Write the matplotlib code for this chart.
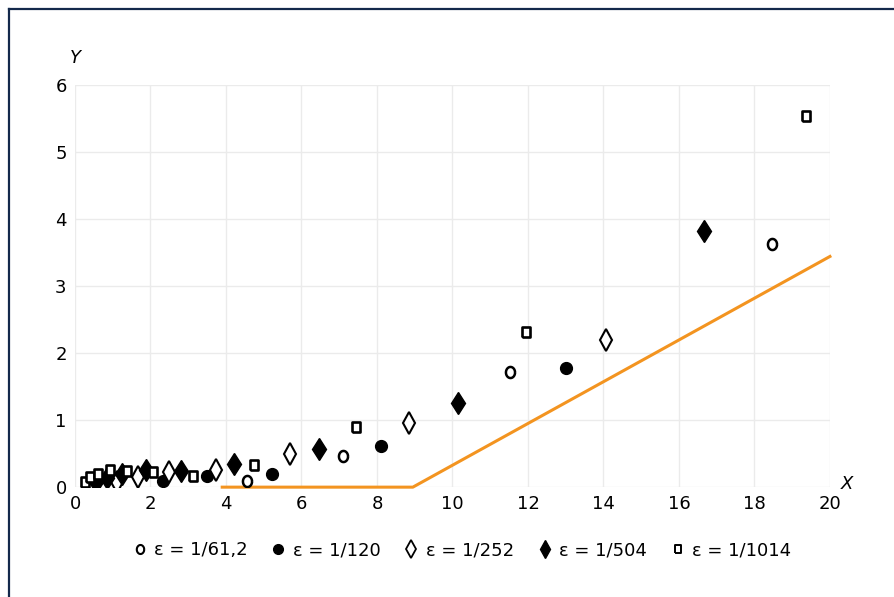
"""
Y versus X for several epsilon values, with the orange threshold line
"""
import numpy as np
import matplotlib
matplotlib.use("Agg")
import matplotlib.pyplot as plt
from matplotlib.lines import Line2D
from matplotlib.markers import MarkerStyle

# eps = 1/61,2  (open circles)
x_612 = [4.56, 7.10, 11.52, 18.46]
y_612 = [0.09, 0.47, 1.71, 3.63]

# eps = 1/120  (filled circles)
x_120 = [2.34, 3.49, 5.23, 8.10, 13.00]
y_120 = [0.09, 0.16, 0.20, 0.61, 1.77]

# eps = 1/252  (open diamonds)
x_252 = [1.10, 1.66, 2.49, 3.73, 5.70, 8.85, 14.08]
y_252 = [0.08, 0.15, 0.23, 0.25, 0.49, 0.96, 2.19]

# eps = 1/504  (filled diamonds)
x_504 = [0.56, 0.84, 1.24, 1.88, 2.80, 4.22, 6.47, 10.14, 16.67]
y_504 = [0.08, 0.14, 0.20, 0.25, 0.24, 0.34, 0.575, 1.25, 3.82]

# eps = 1/1014  (open squares)
x_1014 = [0.26, 0.40, 0.62, 0.93, 1.39, 2.07, 3.12, 4.75, 7.44, 11.95, 19.36]
y_1014 = [0.08, 0.15, 0.20, 0.25, 0.24, 0.23, 0.17, 0.33, 0.90, 2.32, 5.54]

# orange line
line_x = [3.9, 8.95, 20.0]
line_y = [0.0, 0.0, 3.44]

labels = ["ε = 1/61,2", "ε = 1/120", "ε = 1/252", "ε = 1/504", "ε = 1/1014"]

# slightly tall marker shapes, like in the original
t = np.linspace(0, 2 * np.pi, 41)
oval = MarkerStyle(list(zip(0.82 * np.cos(t), np.sin(t))))
rect = MarkerStyle([(-0.72, -1), (0.72, -1), (0.72, 1), (-0.72, 1), (-0.72, -1)],
                   joinstyle="miter")

plt.rcParams["font.family"] = ["DejaVu Sans"]

fig = plt.figure(figsize=(8.95, 5.97), dpi=100)
ax = fig.add_axes([0.0838, 0.184, 0.8435, 0.674])

ax.plot(line_x, line_y, color="#f39420", lw=2.2, zorder=2, clip_on=False)

ax.plot(x_612, y_612, marker=oval, ms=8, mfc="white", mec="black", mew=1.8,
        ls="none", label=labels[0], zorder=3)
ax.plot(x_120, y_120, "o", ms=8.5, mfc="black", mec="black",
        ls="none", label=labels[1], zorder=3)
ax.plot(x_252, y_252, "d", ms=11, mfc="white", mec="black", mew=1.5,
        ls="none", label=labels[2], zorder=3)
ax.plot(x_504, y_504, "d", ms=11.5, mfc="black", mec="black",
        ls="none", label=labels[3], zorder=3)
ax.plot(x_1014, y_1014, marker=rect, ms=7.5, mfc="white", mec="black", mew=1.9,
        ls="none", label=labels[4], zorder=3)

ax.set_xlim(0, 20)
ax.set_ylim(0, 6)
ax.set_xticks(range(0, 21, 2))
ax.set_yticks(range(0, 7))
ax.grid(True, color="#ebebeb", lw=1.0)
ax.set_axisbelow(True)
for s in ax.spines.values():
    s.set_visible(False)
ax.tick_params(length=0, labelsize=13, pad=6)

ax.text(0.0, 6.4, "Y", fontsize=13, fontstyle="italic", ha="center", va="center")
ax.text(20.45, 0.05, "X", fontsize=13, fontstyle="italic", ha="center", va="center")

leg_handles = [
    Line2D([], [], marker=oval, ms=6.5, mfc="white", mec="black", mew=1.5, ls="none"),
    Line2D([], [], marker="o", ms=7, mfc="black", mec="black", ls="none"),
    Line2D([], [], marker="d", ms=9, mfc="white", mec="black", mew=1.3, ls="none"),
    Line2D([], [], marker="d", ms=9, mfc="black", mec="black", ls="none"),
    Line2D([], [], marker=rect, ms=6, mfc="white", mec="black", mew=1.4, ls="none"),
]
fig.legend(leg_handles, labels, loc="center", bbox_to_anchor=(0.516, 0.078),
           ncol=5, frameon=False, fontsize=13, handlelength=0.8,
           handletextpad=0.4, columnspacing=1.3)

# frame edge at top and left of the picture
fig.add_artist(Line2D([0.010, 0.010], [0.0, 0.985], transform=fig.transFigure,
                      color="#13294b", lw=1.6))
fig.add_artist(Line2D([0.010, 1.0], [0.985, 0.985], transform=fig.transFigure,
                      color="#13294b", lw=1.6))

fig.savefig("out.png", dpi=100)
